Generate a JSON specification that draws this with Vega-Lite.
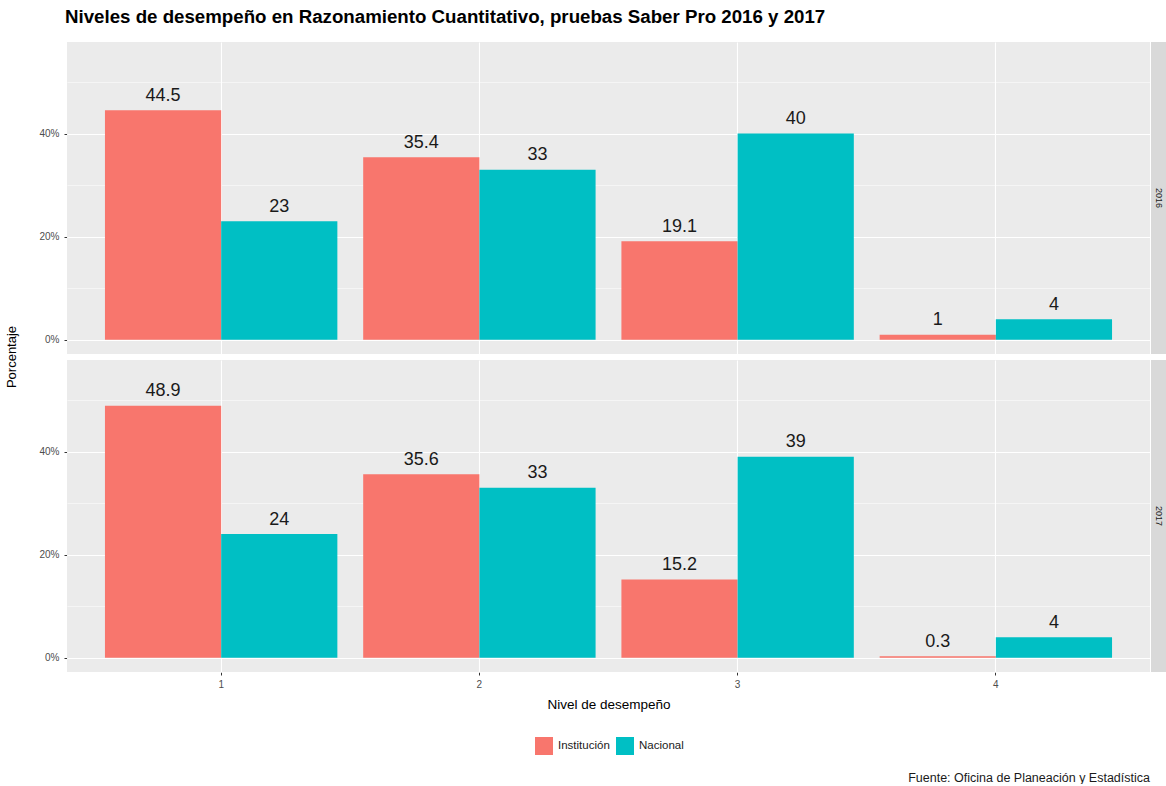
{
  "$schema": "https://vega.github.io/schema/vega-lite/v6.json",
  "padding": {"left": 5, "top": 8, "right": 0, "bottom": 0},
  "background": "white",
  "title": {"text": "Niveles de desempeño en Razonamiento Cuantitativo, pruebas Saber Pro 2016 y 2017", "anchor": "start", "font": "Liberation Sans", "fontSize": 18.7, "fontWeight": "bold", "color": "black", "offset": 15, "dx": 59},
  "config": {
    "font": "Liberation Sans",
    "view": {"fill": "#EBEBEB", "stroke": null}
  },
  "spacing": 1,
  "hconcat": [
    {
      "data": {"values": [
        {"anio": "2016", "nivel": "1", "grupo": "Institución", "pct": 44.5},
        {"anio": "2016", "nivel": "1", "grupo": "Nacional", "pct": 23},
        {"anio": "2016", "nivel": "2", "grupo": "Institución", "pct": 35.4},
        {"anio": "2016", "nivel": "2", "grupo": "Nacional", "pct": 33},
        {"anio": "2016", "nivel": "3", "grupo": "Institución", "pct": 19.1},
        {"anio": "2016", "nivel": "3", "grupo": "Nacional", "pct": 40},
        {"anio": "2016", "nivel": "4", "grupo": "Institución", "pct": 1},
        {"anio": "2016", "nivel": "4", "grupo": "Nacional", "pct": 4},
        {"anio": "2017", "nivel": "1", "grupo": "Institución", "pct": 48.9},
        {"anio": "2017", "nivel": "1", "grupo": "Nacional", "pct": 24},
        {"anio": "2017", "nivel": "2", "grupo": "Institución", "pct": 35.6},
        {"anio": "2017", "nivel": "2", "grupo": "Nacional", "pct": 33},
        {"anio": "2017", "nivel": "3", "grupo": "Institución", "pct": 15.2},
        {"anio": "2017", "nivel": "3", "grupo": "Nacional", "pct": 39},
        {"anio": "2017", "nivel": "4", "grupo": "Institución", "pct": 0.3},
        {"anio": "2017", "nivel": "4", "grupo": "Nacional", "pct": 4}
      ]},
      "facet": {"row": {"field": "anio", "type": "nominal", "title": "Porcentaje",
        "header": {"labels": false, "titleOrient": "left", "titleFontSize": 13, "titleFontWeight": "normal", "titleColor": "black", "titlePadding": 9, "titleFont": "Liberation Sans"}}},
      "spacing": {"row": 6},
      "title": {"text": "Fuente: Oficina de Planeación y Estadística", "orient": "bottom", "anchor": "end", "font": "Liberation Sans", "fontSize": 12.5, "fontWeight": "normal", "color": "#1A1A1A", "offset": 61},
      "spec": {
        "width": 1083,
        "height": 312,
        "encoding": {
          "x": {"field": "nivel", "type": "ordinal", "title": "Nivel de desempeño",
            "scale": {"paddingInner": 0.1, "paddingOuter": 0.147},
            "axis": {"labelAngle": 0, "labelColor": "#4D4D4D", "labelFontSize": 10, "tickColor": "#333333", "tickSize": 3, "domain": false, "grid": true, "gridColor": "white", "gridWidth": 1.1, "bandPosition": 0.5, "titleFontSize": 13.5, "titleFontWeight": "normal", "titleColor": "black", "titlePadding": 8, "labelPadding": 4}},
          "xOffset": {"field": "grupo", "type": "nominal", "scale": {"paddingInner": 0, "paddingOuter": 0}},
          "y": {"field": "pct", "type": "quantitative", "title": null,
            "scale": {"domain": [-2.75, 57.75], "nice": false, "zero": false},
            "axis": {"values": [0, 10, 20, 30, 40, 50], "labelExpr": "datum.value % 20 === 0 ? datum.value + '%' : ''", "labelColor": "#4D4D4D", "labelFontSize": 10, "tickColor": "#333333", "tickSize": 3, "tickOpacity": {"condition": {"test": "datum.value % 20 === 0", "value": 1}, "value": 0}, "domain": false, "grid": true, "gridColor": "white", "gridWidth": {"condition": {"test": "datum.value % 20 === 0", "value": 1.1}, "value": 0.5}, "labelPadding": 5}}
        },
        "layer": [
          {
            "mark": {"type": "bar"},
            "encoding": {
              "y2": {"datum": 0},
              "color": {"field": "grupo", "type": "nominal",
                "scale": {"domain": ["Institución", "Nacional"], "range": ["#F8766D", "#00BFC4"]},
                "legend": {"title": null, "orient": "none", "legendX": 468, "legendY": 695, "direction": "horizontal", "columns": 2, "symbolType": "square", "symbolSize": 324, "symbolStrokeWidth": 0, "symbolOpacity": 1, "labelFontSize": 11.5, "labelColor": "#1A1A1A", "columnPadding": 6, "labelOffset": 5}}
            }
          },
          {
            "mark": {"type": "text", "baseline": "alphabetic", "dy": -9.5, "fontSize": 18, "color": "#1A1A1A"},
            "encoding": {
              "text": {"field": "pct", "type": "quantitative"}
            }
          }
        ]
      }
    },
    {
      "data": {"values": [{"anio": "2016"}, {"anio": "2017"}]},
      "facet": {"row": {"field": "anio", "type": "nominal", "header": null}},
      "spacing": {"row": 6},
      "spec": {
        "width": 16,
        "height": 312,
        "view": {"fill": "#D9D9D9", "stroke": null},
        "mark": {"type": "text", "angle": 90, "fontSize": 9, "color": "#1A1A1A", "baseline": "middle", "align": "center"},
        "encoding": {"text": {"field": "anio", "type": "nominal"}}
      }
    }
  ]
}
